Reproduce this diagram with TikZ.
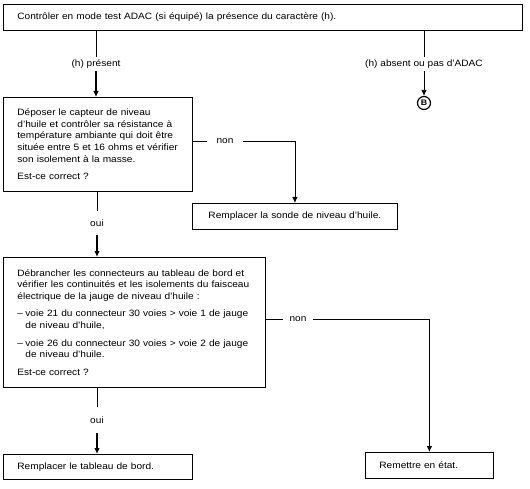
\documentclass[tikz,border=0pt]{standalone}
\usepackage{fontspec}
\setmainfont{Liberation Sans}[FakeStretch=1.1]
\usetikzlibrary{arrows.meta}

\newcommand{\tiret}{\makebox[8pt][l]{–}}
\newcommand{\retrait}{\hspace*{8pt}}

\begin{document}
\begin{tikzpicture}[x=1pt,y=-1pt,>={Latex[length=6pt,width=5.5pt]},
    line width=0.8pt,font=\fontsize{9.2}{11.6}\selectfont,
    box node/.style={draw,rectangle,anchor=north west,align=left,inner xsep=14pt,inner ysep=0pt},
    label node/.style={inner sep=0pt,minimum height=14pt},
    thick arrow/.style={->,line width=1.6pt}]

  \useasboundingbox[fill=white] (0,0) rectangle (530,489);

  \node[box node,text width=491pt,minimum height=26pt] (controle) at (3,4)
    {Contrôler en mode test ADAC (si équipé) la présence du caractère (h).};
  \node[box node,text width=161pt,minimum height=94pt] (capteur) at (3,97)
    {Déposer le capteur de niveau\\ d'huile et contrôler sa résistance à\\
     température ambiante qui doit être\\ située entre 5 et 16 ohms et vérifier\\
     son isolement à la masse.\\[6pt] Est-ce correct ?};
  \node[box node,text width=177pt,align=center,minimum height=26pt] (sonde) at (192,203)
    {Remplacer la sonde de niveau d'huile.};
  \node[box node,text width=234pt,minimum height=130pt] (faisceau) at (3,257)
    {Débrancher les connecteurs au tableau de bord et\\
     vérifier les continuités et les isolements du faisceau\\
     électrique de la jauge de niveau d'huile :\\[6pt]
     \tiret voie 21 du connecteur 30 voies > voie 1 de jauge\\
     \retrait de niveau d'huile,\\[6pt]
     \tiret voie 26 du connecteur 30 voies > voie 2 de jauge\\
     \retrait de niveau d'huile.\\[6pt]
     Est-ce correct ?};
  \node[box node,text width=161pt,minimum height=25pt] (tableau) at (3,454)
    {Remplacer le tableau de bord.};
  \node[box node,text width=100pt,minimum height=26pt] (remettre) at (365,452)
    {Remettre en état.};

  \node[label node] (present) at (96,64) {(h) présent};
  \node[label node] (absent) at (424,64) {(h) absent ou pas d'ADAC};
  \node[draw,circle,line width=1.2pt,inner sep=0pt,minimum size=13pt,
    font=\bfseries\fontsize{8}{8}\selectfont] (B) at (424,103) {B};
  \node[label node,minimum height=23pt] (oui1) at (97,223) {oui};
  \node[label node,minimum height=25pt] (oui2) at (97,420) {oui};
  \node[label node,minimum width=35pt] (non1) at (225,141) {non};
  \node[label node,minimum width=30pt] (non2) at (298,319) {non};

  \draw (present |- controle.south) -- (present.north);
  \draw[thick arrow] (present.south) -- (present |- capteur.north);
  \draw (absent |- controle.south) -- (absent.north);
  \draw[->] (absent.south) -- (B.north);
  \draw (non1 -| capteur.east) -- (non1.west);
  \draw[->] (non1.east) -| (sonde.north);
  \draw (oui1 |- capteur.south) -- (oui1.north);
  \draw[thick arrow] (oui1.south) -- (oui1 |- faisceau.north);
  \draw (non2 -| faisceau.east) -- (non2.west);
  \draw[->] (non2.east) -| (remettre.north);
  \draw (oui2 |- faisceau.south) -- (oui2.north);
  \draw[thick arrow] (oui2.south) -- (oui2 |- tableau.north);

\end{tikzpicture}
\end{document}
